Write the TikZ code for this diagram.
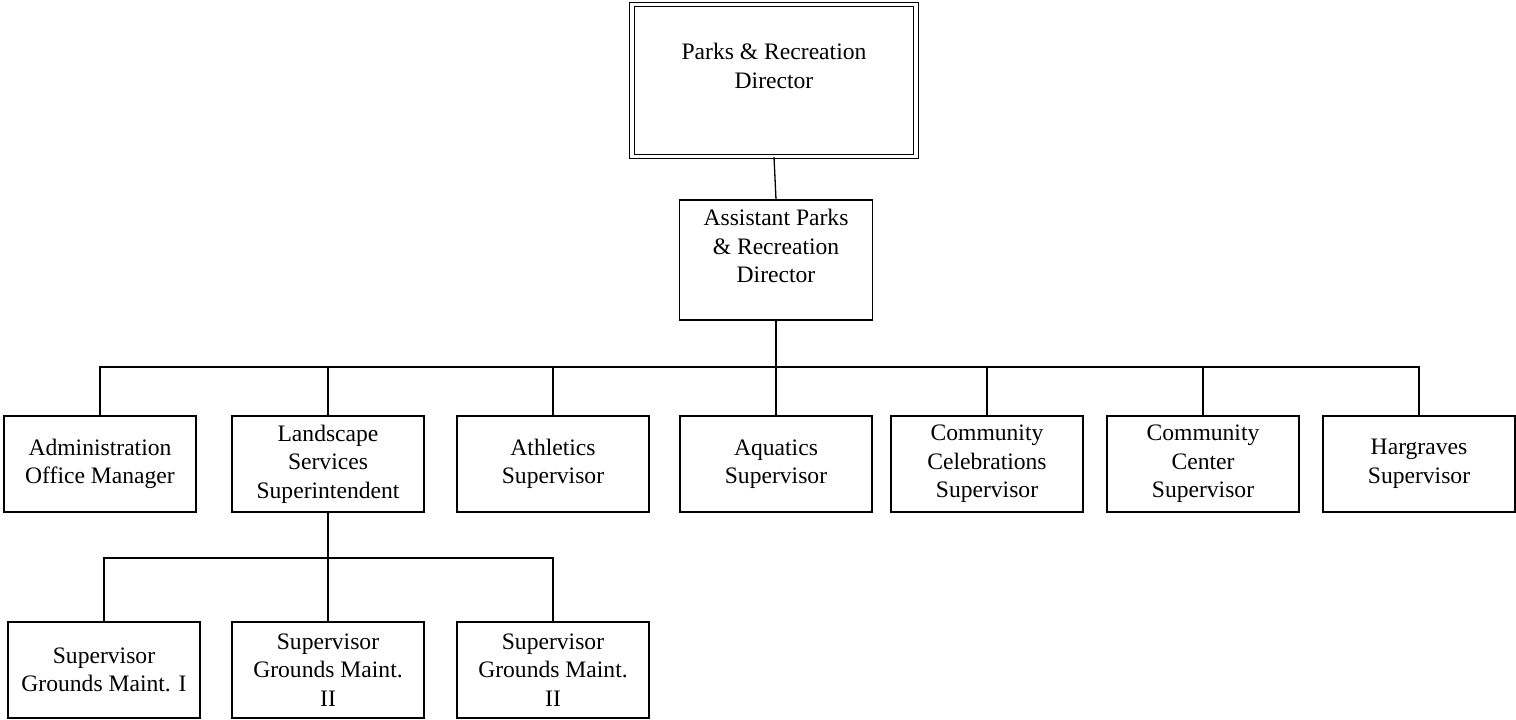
\documentclass[tikz,border=0pt]{standalone}
\usepackage{fontspec}
\setmainfont{Liberation Serif}
\begin{document}
\begin{tikzpicture}[x=1pt,y=-1pt,
  lw/.style={line width=1.3pt},
  box/.style={draw,lw,rectangle,inner sep=0pt,minimum width=192pt,minimum height=96pt,align=center,font=\fontsize{23.6}{28.5}\selectfont},
  txt/.style={inner sep=0pt,align=center,font=\fontsize{23.6}{28.5}\selectfont},
  link/.style={lw}]
\useasboundingbox (0,0) rectangle (1516,720);
% top
\node[draw,line width=1.2pt,double,double distance=3.5pt,rectangle,inner sep=0pt,minimum width=284pt,minimum height=152pt] (dir) at (774,80.5) {};
\node[txt] (dirT) at (774,66) {Parks \& Recreation\\Director};
\node[draw,lw,rectangle,inner sep=0pt,minimum width=193pt,minimum height=120pt] (asst) at (776,260) {};
\node[txt] (asstT) at (776,246) {Assistant Parks\\\& Recreation\\Director};
% row 1
\node[box] (admin) at (100,464) {Administration\\Office Manager};
\node[box] (land) at (328,464) {Landscape\\Services\\Superintendent};
\node[box] (ath) at (553,464) {Athletics\\Supervisor};
\node[box] (aqua) at (776,464) {Aquatics\\Supervisor};
\node[box] (cel) at (987,464) {Community\\Celebrations\\Supervisor};
\node[box] (cc) at (1203,464) {Community\\Center\\Supervisor};
\node[box] (harg) at (1419,464) {Hargraves\\Supervisor};
% row 2
\node[box] (g1) at (104,670) {Supervisor\\Grounds Maint. I};
\node[box] (g2) at (328,670) {Supervisor\\Grounds Maint.\\II};
\node[box] (g3) at (553,670) {Supervisor\\Grounds Maint.\\II};
% connectors
\coordinate (bus1) at (776,367);
\coordinate (bus2) at (328,558);
\draw[link] (dir.south) -- (asst.north);
\draw[link] (asst.south) -- (bus1);
\foreach \n in {admin,land,ath,aqua,cel,cc,harg}
  \draw[link] (bus1) -| (\n.north);
\draw[link] (land.south) -- (bus2);
\foreach \n in {g1,g2,g3}
  \draw[link] (bus2) -| (\n.north);
\end{tikzpicture}
\end{document}
